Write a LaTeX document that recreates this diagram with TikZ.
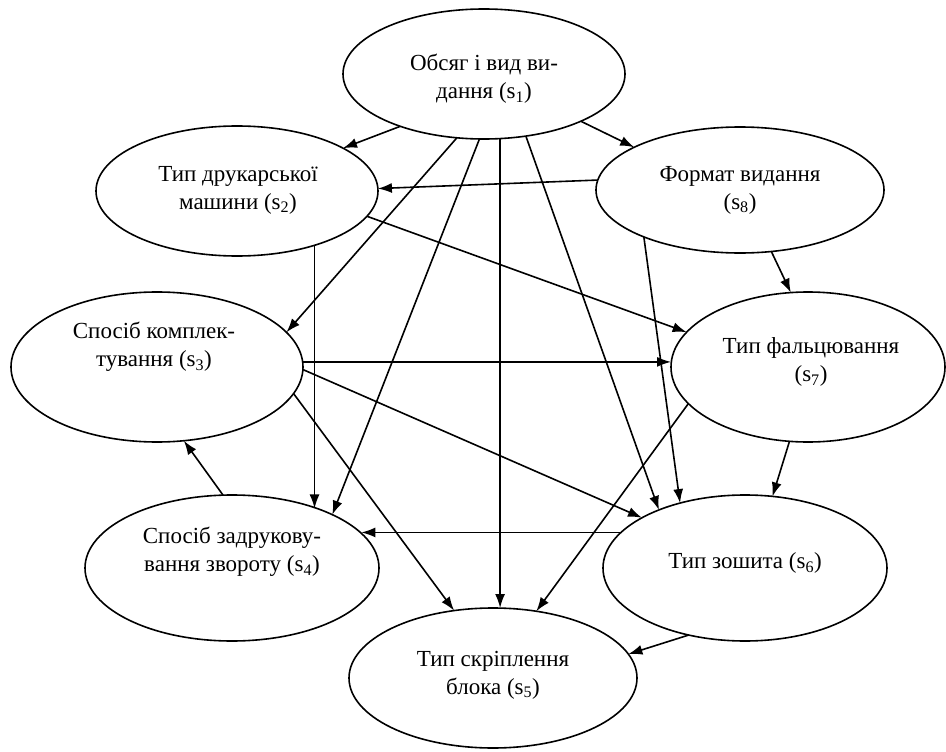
\documentclass[tikz,border=0pt]{standalone}
\usepackage{fontspec}
\setmainfont{Liberation Serif}
\usetikzlibrary{shapes.geometric,arrows.meta}
\begin{document}
\begin{tikzpicture}[x=1pt,y=-1pt,
  ell/.style={ellipse,draw,line width=1.6pt,inner sep=0pt,outer sep=0pt},
  txt/.style={align=center,font=\fontsize{23}{28}\selectfont,inner sep=0pt},
  arr/.style={-{Latex[length=14pt,width=10pt]},line width=1.6pt}]
\useasboundingbox (0,0) rectangle (946,752);
% ellipses
\node[ell,minimum width=282pt,minimum height=130pt] (s1) at (484,74) {};
\node[ell,minimum width=282pt,minimum height=130pt] (s2) at (237,191) {};
\node[ell,minimum width=288pt,minimum height=126pt] (s8) at (740,190) {};
\node[ell,minimum width=292pt,minimum height=150pt] (s3) at (157,367) {};
\node[ell,minimum width=274pt,minimum height=150pt] (s7) at (808,367) {};
\node[ell,minimum width=294pt,minimum height=146pt] (s4) at (232,568) {};
\node[ell,minimum width=284pt,minimum height=146pt] (s6) at (745,568) {};
\node[ell,minimum width=288pt,minimum height=140pt] (s5) at (493,678) {};
% texts
\node[txt] (t1) at (484,79) {Обсяг і вид ви-\\дання (s\textsubscript{1})};
\node[txt] (t2) at (238,190) {Тип друкарської\\машини (s\textsubscript{2})};
\node[txt] (t8) at (740,190) {Формат видання\\(s\textsubscript{8})};
\node[txt] (t3) at (154,347) {Спосіб комплек-\\тування (s\textsubscript{3})};
\node[txt] (t7) at (811,362) {Тип фальцювання\\(s\textsubscript{7})};
\node[txt] (t4) at (232,552) {Спосіб задрукову-\\вання звороту (s\textsubscript{4})};
\node[txt] (t6) at (745,563) {Тип зошита (s\textsubscript{6})};
\node[txt] (t5) at (493,675) {Тип скріплення\\блока (s\textsubscript{5})};
% connectors
\draw[arr] (s1.212) -- (s2.22);
\draw[arr] (s1.334.6) -- (s8.158.1);
\draw[arr] (s1.247.4) -- (s3.15.1);
\draw[arr] (s1.266.5) -- (s4.28.5);
\draw[arr] (s1.284) -- (s1.284 |- s5.north);
\draw[arr] (s1.304.3) -- (s6.146.6);
\draw[arr] (s2.325.7) -- (s2.325.7 |- s4.35.5);
\draw[arr] (s2.349.1) -- (s7.164.8);
\draw[arr] (s8.176.8) -- (s2.1.2);
\draw[arr] (s8.297.3) -- (s7.103.3);
\draw[arr] (s8.206.1) -- (s6.135.8);
\draw[arr] (s3.2.8) -- (s3.2.8 -| s7.west);
\draw[arr] (s3.359.2) -- (s6.154.1);
\draw[arr] (s3.349.3) -- (s5.120.8);
\draw[arr] (s4.97) -- (s3.290.5);
\draw[arr] (s6.164) -- (s6.164 -| s4.15.7);
\draw[arr] (s6.230.6) -- (s5.10.6);
\draw[arr] (s7.256.7) -- (s6.69.5);
\draw[arr] (s7.197.2) -- (s5.57.1);
\end{tikzpicture}
\end{document}
